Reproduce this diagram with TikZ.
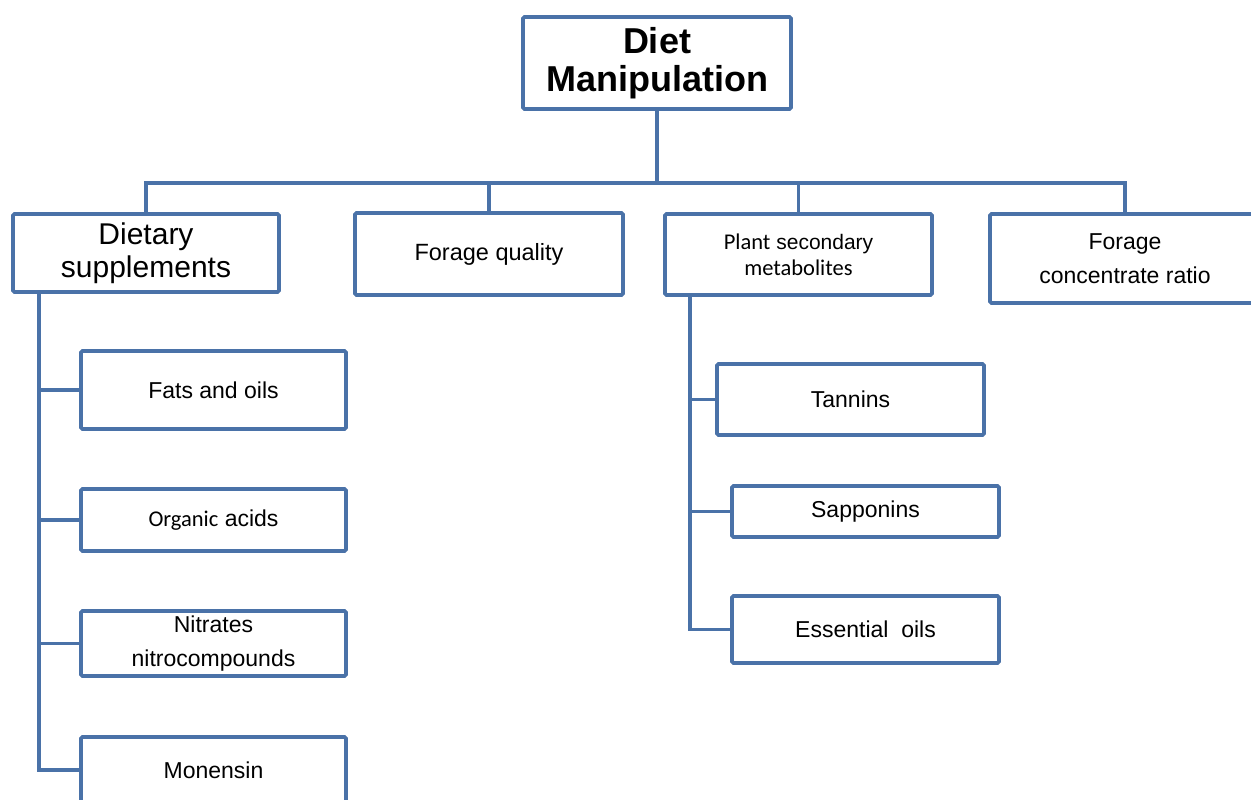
\documentclass[tikz,border=0pt]{standalone}
\usepackage{fontspec}
\setmainfont{Liberation Sans}
\newfontfamily\calib{Carlito}
\definecolor{boxblue}{HTML}{4A72A8}
\tikzset{
  bx/.style={draw=boxblue, line width=3.6pt, rounded corners=1.5pt, fill=white, rectangle, inner sep=0pt, align=center, font=\fontsize{23}{34}\selectfont},
  conn/.style={draw=boxblue, line width=3.6pt}
}
\begin{document}
\begin{tikzpicture}[x=1pt,y=-1pt]
\useasboundingbox[clip] (0,0) rectangle (1251,800);
\fill[white] (0,0) rectangle (1251,800);
% nodes
\node[bx, minimum width=268, minimum height=92, font=\fontsize{36}{38}\selectfont\bfseries] (dm) at (657,63) {Diet\\Manipulation};
\node[bx, minimum width=266, minimum height=78, font=\fontsize{30}{33}\selectfont] (ds) at (146,253) {Dietary\\supplements};
\node[bx, minimum width=268, minimum height=82, font=\fontsize{23.5}{34}\selectfont] (fq) at (489,254) {Forage quality};
\node[bx, minimum width=267, minimum height=81, font=\fontsize{21}{26}\selectfont] (psm) at (798.5,254.5) {{\calib\fontsize{22.5}{26}\selectfont Plant} secondary\\{\calib\fontsize{22.5}{26}\selectfont metabolites}};
\node[bx, minimum width=270, minimum height=89] (fcr) at (1125,258.5) {Forage\\concentrate ratio};
\node[bx, minimum width=265, minimum height=78] (fo) at (213.5,390) {Fats and oils};
\node[bx, minimum width=265, minimum height=62] (oa) at (213.5,520) {{\calib\fontsize{22.5}{34}\selectfont Organic} acids};
\node[bx, minimum width=265, minimum height=65] (nn) at (213.5,643.5) {Nitrates\\nitrocompounds};
\node[bx, minimum width=265, minimum height=66] (mo) at (213.5,770) {Monensin};
\node[bx, minimum width=267, minimum height=71] (ta) at (850.5,399.5) {Tannins};
\node[bx, minimum width=267, minimum height=51] (sa) at (865.5,511.5) {Sapponins};
\node[bx, minimum width=267, minimum height=67] (eo) at (865.5,629.5) {Essential\ \ oils};
% coordinates
\coordinate (bus) at (657,183);
\coordinate (lsp) at (39,0);
\coordinate (rsp) at (690,0);
% connectors
\begin{scope}[on background layer/.style={}]
\draw[conn] (dm.south) -- (bus);
\draw[conn] (ds.north) |- (bus) -| (fcr.north);
\draw[conn] (fq.north) |- (bus);
\draw[conn] (psm.north) |- (bus);
\draw[conn] (ds.south -| lsp) |- (mo.west);
\draw[conn] (lsp |- fo.west) -- (fo.west);
\draw[conn] (lsp |- oa.west) -- (oa.west);
\draw[conn] (lsp |- nn.west) -- (nn.west);
\draw[conn] (psm.south -| rsp) |- (eo.west);
\draw[conn] (rsp |- ta.west) -- (ta.west);
\draw[conn] (rsp |- sa.west) -- (sa.west);
\end{scope}
\end{tikzpicture}
\end{document}
